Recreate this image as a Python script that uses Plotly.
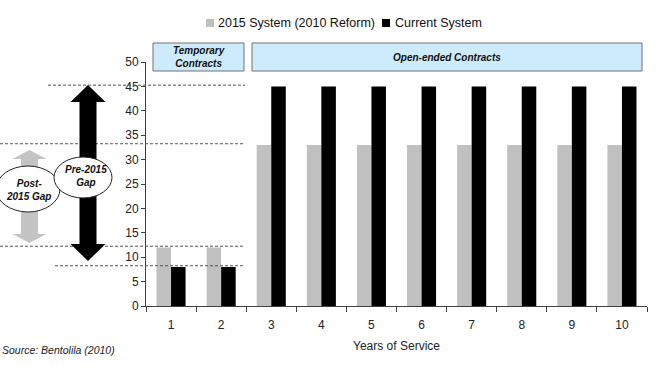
import plotly.graph_objects as go

# ---- data ----
years = ["1", "2", "3", "4", "5", "6", "7", "8", "9", "10"]
system_2015 = [12, 12, 33, 33, 33, 33, 33, 33, 33, 33]
current_system = [8, 8, 45, 45, 45, 45, 45, 45, 45, 45]
series_names = ["2015 System (2010 Reform)", "Current System"]
y_ticks = [0, 5, 10, 15, 20, 25, 30, 35, 40, 45, 50]

GRAY = "#c0c0c0"
BLACK = "#000000"
FONT = "Arial, Liberation Sans, sans-serif"

W, H = 659, 367
L, R, T, B = 146, 647, 62, 306
YMAX = 50


def px(p):
    return (p - L) / (R - L)


def py(p):
    return (B - p) / (B - T)


def vy(v):
    return v / YMAX


fig = go.Figure()
fig.add_trace(go.Bar(x=years, y=system_2015, name=series_names[0],
                     marker=dict(color=GRAY, line=dict(width=0)), showlegend=False))
fig.add_trace(go.Bar(x=years, y=current_system, name=series_names[1],
                     marker=dict(color=BLACK, line=dict(width=0)), showlegend=False))

shapes = []
annotations = []

# dashed reference lines (from data values)
gap_top_pre = max(current_system)
gap_bot_pre = min(current_system)
gap_top_post = max(system_2015)
gap_bot_post = min(system_2015)
for v, x0 in [(gap_top_pre, 48), (gap_top_post, 0), (gap_bot_post, 0), (gap_bot_pre, 55)]:
    shapes.append(dict(type="line", xref="paper", yref="paper",
                       x0=px(x0), x1=px(245), y0=vy(v) + 0.005, y1=vy(v) + 0.005,
                       line=dict(color="#555555", width=1, dash="3px,2px"), layer="above"))


def double_arrow(xc, ytop, ybot, half_shaft, half_head, head_len, color):
    pts = [
        (xc, ytop),
        (xc + half_head, ytop + head_len),
        (xc + half_shaft, ytop + head_len),
        (xc + half_shaft, ybot - head_len),
        (xc + half_head, ybot - head_len),
        (xc, ybot),
        (xc - half_head, ybot - head_len),
        (xc - half_shaft, ybot - head_len),
        (xc - half_shaft, ytop + head_len),
        (xc - half_head, ytop + head_len),
    ]
    path = "M " + " L ".join(f"{px(a):.5f},{py(b):.5f}" for a, b in pts) + " Z"
    return dict(type="path", xref="paper", yref="paper", path=path,
                fillcolor=color, line=dict(width=0), layer="above")


# gray (post-2015) arrow and black (pre-2015) arrow
shapes.append(double_arrow(29.5, 150, 243, 8.5, 17, 9, "#c4c4c4"))
shapes.append(double_arrow(88, 85, 261, 8.5, 17.5, 17, BLACK))

# ellipses
shapes.append(dict(type="circle", xref="paper", yref="paper",
                   x0=px(-4), x1=px(60), y0=py(212), y1=py(166),
                   fillcolor="white", line=dict(color="#222222", width=1), layer="above"))
shapes.append(dict(type="circle", xref="paper", yref="paper",
                   x0=px(54), x1=px(112), y0=py(198), y1=py(157),
                   fillcolor="white", line=dict(color="#222222", width=1), layer="above"))

annotations.append(dict(xref="paper", yref="paper", x=px(28), y=py(190),
                        xanchor="center", yanchor="middle",
                        text="<b><i>Post-<br>2015 Gap</i></b>", showarrow=False,
                        font=dict(family=FONT, size=10, color="#111111"), align="center"))
annotations.append(dict(xref="paper", yref="paper", x=px(86), y=py(176),
                        xanchor="center", yanchor="middle",
                        text="<b><i>Pre-2015<br>Gap</i></b>", showarrow=False,
                        font=dict(family=FONT, size=10, color="#111111"), align="center"))

# header boxes
for x0, x1, label in [(153, 244, "<b><i>Temporary<br>Contracts</i></b>"),
                      (252, 642, "<b><i>Open-ended Contracts</i></b>")]:
    shapes.append(dict(type="rect", xref="paper", yref="paper",
                       x0=px(x0), x1=px(x1), y0=py(71), y1=py(43),
                       fillcolor="#cdebfc", line=dict(color="#707070", width=1)))
    annotations.append(dict(xref="paper", yref="paper", x=px((x0 + x1) / 2), y=py(57),
                            xanchor="center", yanchor="middle",
                            text=label, showarrow=False, align="center",
                            font=dict(family=FONT, size=10, color="#111111")))

# legend (drawn as squares + text)
for (sx, color, tx, name) in [(206, GRAY, 216, series_names[0]),
                              (382, BLACK, 393, series_names[1])]:
    shapes.append(dict(type="rect", xref="paper", yref="paper",
                       x0=px(sx), x1=px(sx + 8), y0=py(27), y1=py(19),
                       fillcolor=color, line=dict(width=0)))
    annotations.append(dict(xref="paper", yref="paper", x=px(tx), y=py(22.5),
                            xanchor="left", yanchor="middle", text=name, showarrow=False,
                            font=dict(family=FONT, size=12.5, color="#111111")))

# source note
annotations.append(dict(xref="paper", yref="paper", x=px(0), y=py(350),
                        xanchor="left", yanchor="middle", text="<i>Source: Bentolila (2010)</i>",
                        showarrow=False, font=dict(family=FONT, size=10.5, color="#222222")))

fig.update_layout(
    width=W, height=H,
    margin=dict(l=L, r=W - R, t=T, b=H - B, pad=0),
    paper_bgcolor="white", plot_bgcolor="white",
    barmode="group", bargap=0.42, bargroupgap=0,
    showlegend=False,
    font=dict(family=FONT, size=12, color="#222222"),
    shapes=shapes, annotations=annotations,
    xaxis=dict(type="category", range=[-0.5, 9.5], showgrid=False, zeroline=False,
               showline=True, linecolor="#404040", linewidth=1,
               ticks="outside", tickson="boundaries", ticklen=5, tickcolor="#404040",
               tickfont=dict(size=12, color="#222222"), ticklabelstandoff=8,
               title=dict(text="Years of Service", font=dict(size=12, color="#222222"), standoff=10)),
    yaxis=dict(range=[0, YMAX], tickvals=y_ticks, showgrid=False, zeroline=False,
               showline=True, linecolor="#404040", linewidth=1,
               ticks="outside", ticklen=4, tickcolor="#404040",
               tickfont=dict(size=12, color="#222222")),
)

fig.write_html("out.html", config={"displayModeBar": False},
               post_script="document.body.style.margin='0';")
